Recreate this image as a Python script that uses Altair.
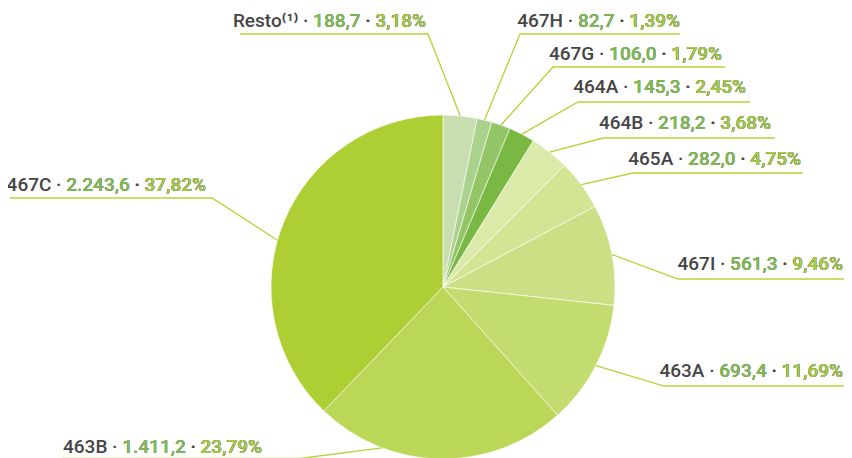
import math
import altair as alt
import pandas as pd

# ---- data ----
labels = ["Resto", "467H", "467G", "464A", "464B", "465A", "467I", "463A", "463B", "467C"]
names = ["Resto⁽¹⁾", "467H", "467G", "464A", "464B", "465A", "467I", "463A", "463B", "467C"]
values = [188.7, 82.7, 106.0, 145.3, 218.2, 282.0, 561.3, 693.4, 1411.2, 2243.6]
value_txt = ["188,7", "82,7", "106,0", "145,3", "218,2", "282,0", "561,3", "693,4", "1.411,2", "2.243,6"]
pct_txt = ["3,18%", "1,39%", "1,79%", "2,45%", "3,68%", "4,75%", "9,46%", "11,69%", "23,79%", "37,82%"]

# ---- styles ----
slice_colors = ["#c8deb0", "#aad28c", "#93c566", "#79b843", "#dbe9a9",
                "#d3e495", "#cbe085", "#c3dc6f", "#bbd757", "#aecf34"]
GRAY = "#454545"
VAL_GREEN = "#7dbb52"
PCT_GREEN = "#a6cd45"
LINE = "#b5d336"
FONT = "Roboto"

# ---- layout: reference page pixels -> chart pixels ----
W, H = 836, 450
OFF = 8


def px(p):
    return p - OFF


FS = 19
CX, CY, R = px(443), px(287), 172
label_right = [426, 680, 722, 746, 771, 801, 843, 843, 262, 206]
label_base = [27, 27, 60, 93, 129, 165, 270, 377, 453, 191]
elbow_x = [428, 520, 553, 578, 603, 633, 678, 664, 300, 212]
elbow_y = [34, 34, 67, 102, 138, 173, 279, 386, 458.5, 198]
end_x = [240, 680, 725, 750, 775, 803, 852, 852, 62, 10]
anchor_frac = [0.5, 0.5, 0.5, 0.5, 0.5, 0.5, 0.5, 0.5, 0.73, 0.455]

pie_df = pd.DataFrame({
    "label": labels,
    "value": values,
    "color": slice_colors,
    "idx": list(range(len(labels))),
})

total = sum(values)
rows = []
cum = 0.0
for i, lab in enumerate(labels):
    a = 2 * math.pi * (cum + anchor_frac[i] * values[i]) / total
    cum += values[i]
    ex = CX + R * math.sin(a)
    ey = CY - R * math.cos(a)
    rows.append({"label": lab, "pt": 0, "x": ex, "y": ey})
    rows.append({"label": lab, "pt": 1, "x": px(elbow_x[i]), "y": px(elbow_y[i])})
    rows.append({"label": lab, "pt": 2, "x": px(end_x[i]), "y": px(elbow_y[i])})
line_df = pd.DataFrame(rows)

text_rows = []
for i, lab in enumerate(labels):
    full = f"{names[i]} · {value_txt[i]} · {pct_txt[i]}"
    parts = [
        (0, full, GRAY),
        (1, f"{value_txt[i]} · {pct_txt[i]}", VAL_GREEN),
        (2, f" · {pct_txt[i]}", GRAY),
        (3, pct_txt[i], PCT_GREEN),
    ]
    for layer, txt, col in parts:
        text_rows.append({"label": lab, "layer": layer, "text": txt, "color": col,
                          "x": px(label_right[i]), "y": px(label_base[i])})
text_df = pd.DataFrame(text_rows)

xs = alt.Scale(domain=[0, W], range=[0, W], nice=False, zero=False)
ys = alt.Scale(domain=[0, H], range=[0, H], nice=False, zero=False)

pie = alt.Chart(pie_df).mark_arc(radius=R, stroke="white", strokeWidth=0.6).encode(
    theta=alt.Theta("value:Q", stack=True),
    order=alt.Order("idx:Q"),
    fill=alt.Fill("color:N", scale=None),
    x=alt.value(CX),
    y=alt.value(CY),
)

lines = alt.Chart(line_df).mark_line(color=LINE, strokeWidth=1.3, clip=False).encode(
    x=alt.X("x:Q", scale=xs, axis=None),
    y=alt.Y("y:Q", scale=ys, axis=None),
    detail="label:N",
    order=alt.Order("pt:Q"),
)

text_layers = []
for layer in range(4):
    t = alt.Chart(text_df[text_df["layer"] == layer]).mark_text(
        align="right", baseline="alphabetic", font=FONT, fontSize=FS, fontWeight=500
    ).encode(
        x=alt.X("x:Q", scale=xs, axis=None),
        y=alt.Y("y:Q", scale=ys, axis=None),
        text="text:N",
        color=alt.Color("color:N", scale=None),
    )
    text_layers.append(t)

chart = alt.layer(pie, lines, *text_layers).properties(
    width=W, height=H, autosize="none", padding=0
).configure_view(stroke=None)

chart.save("out.html", embed_options={"renderer": "svg", "actions": False})
